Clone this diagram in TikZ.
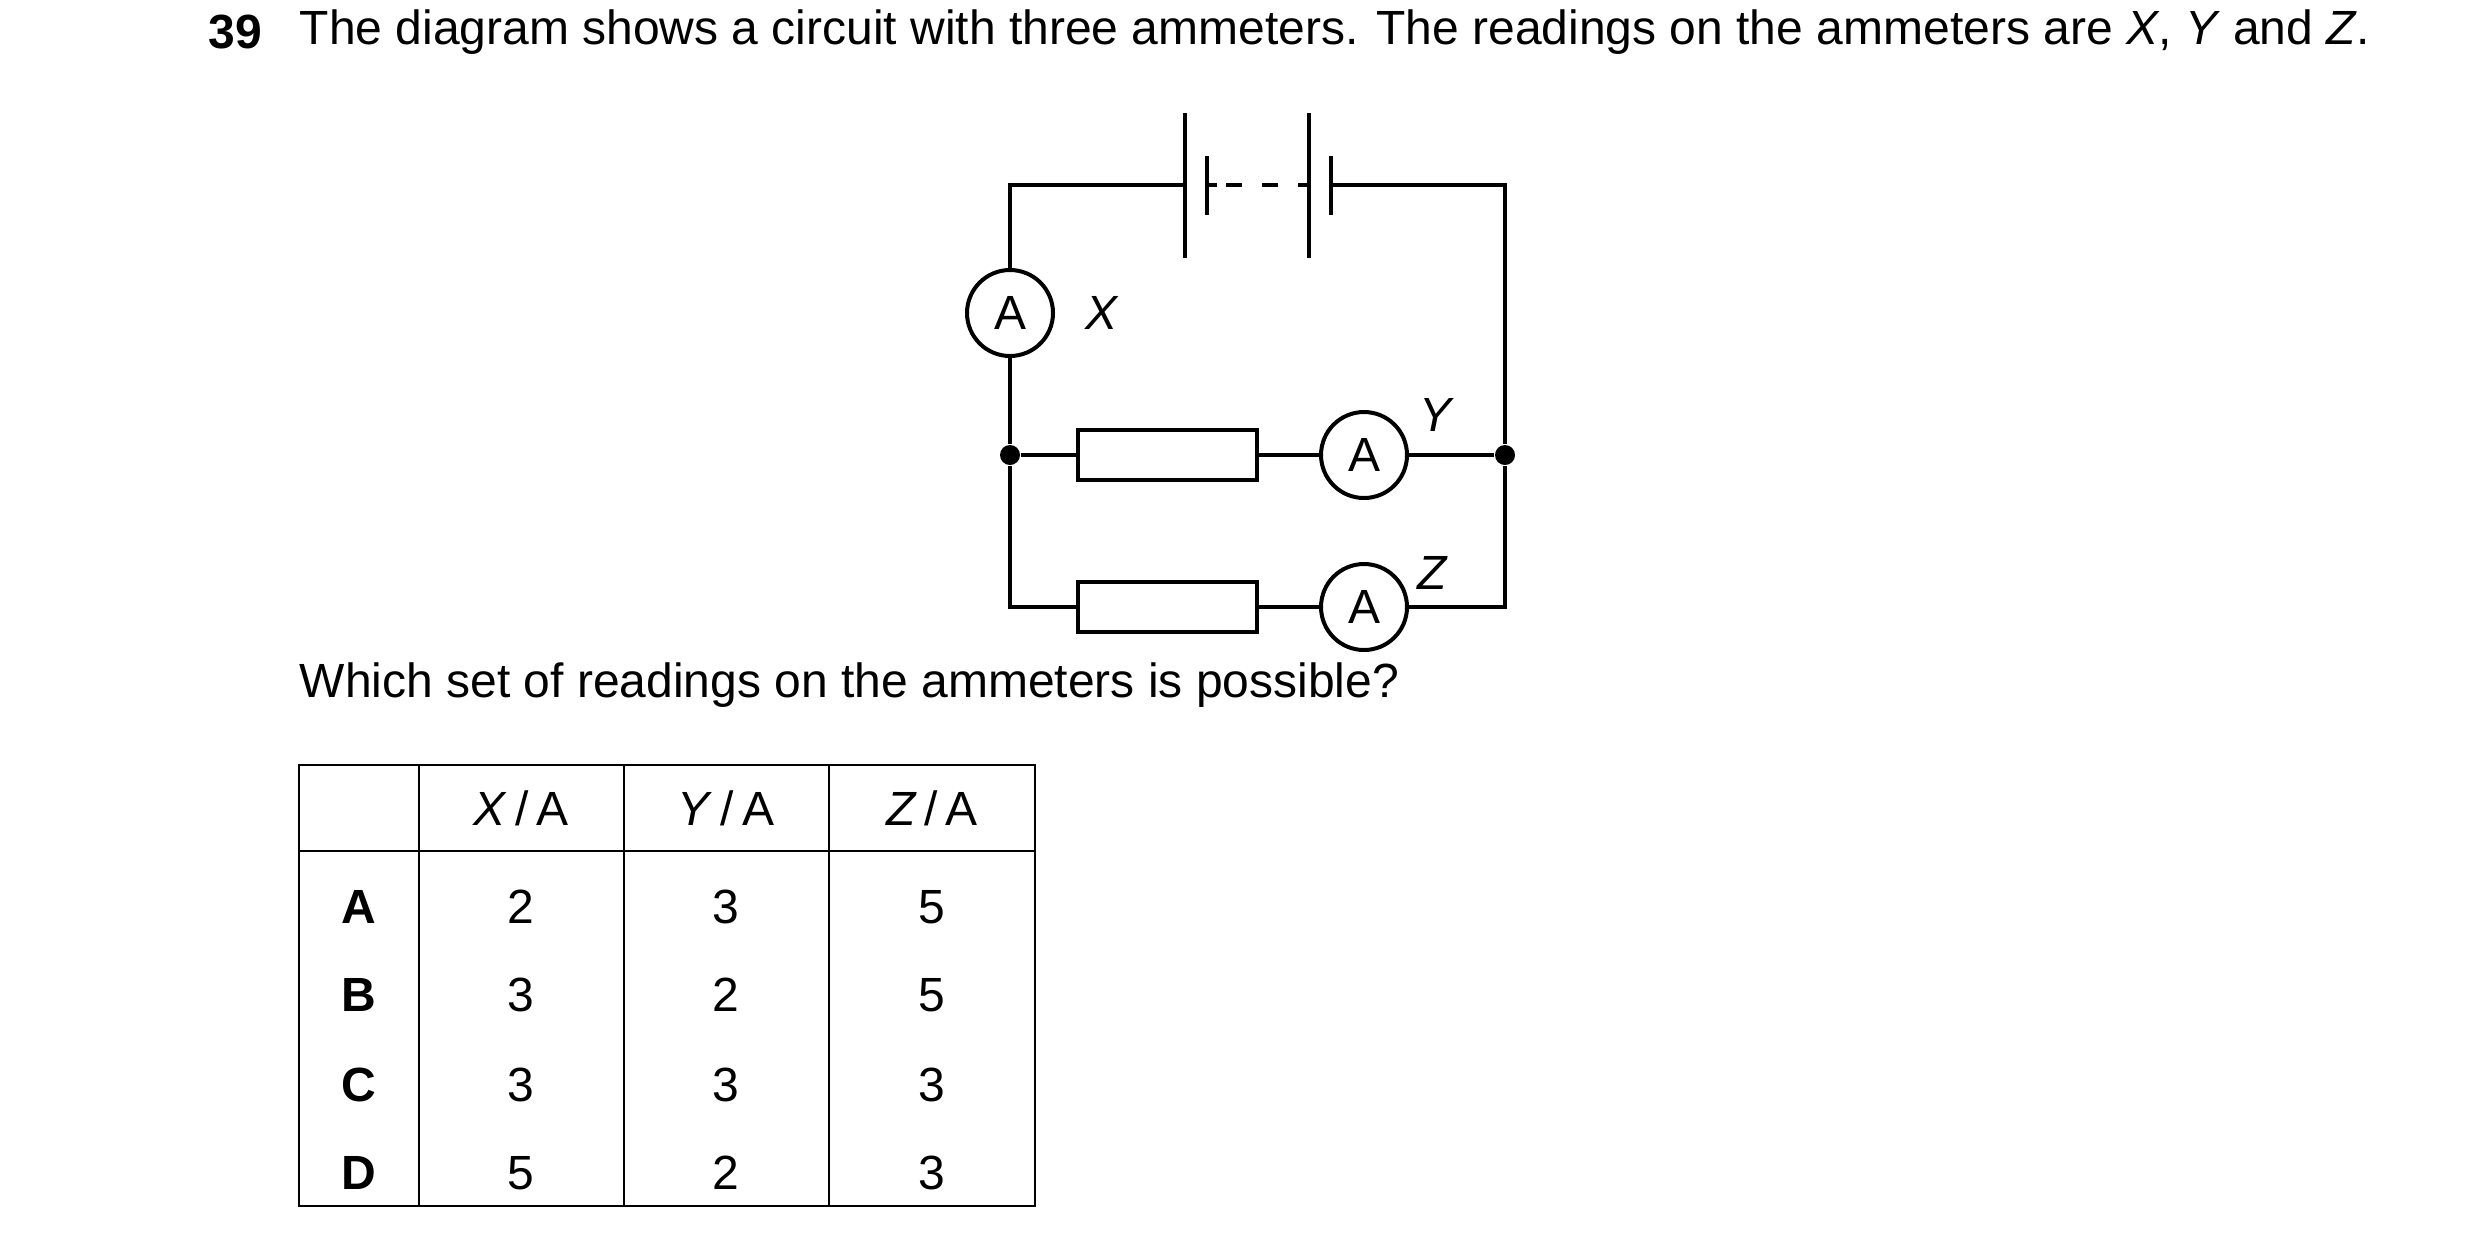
\documentclass[tikz,border=0pt]{standalone}
\usepackage{fontspec}
\setmainfont{Liberation Sans}
\usetikzlibrary{positioning}

\tikzset{
  wire/.style={line width=1pt},
  meter/.style={circle,draw,line width=1pt,minimum size=21.5pt,inner sep=0pt,font=\fontsize{12}{14}\selectfont},
  resistor/.style={rectangle,draw,line width=1pt,minimum width=44.75pt,minimum height=12.5pt,inner sep=0pt},
  junction/.style={circle,fill,inner sep=0pt,minimum size=5pt},
  lbl/.style={font=\fontsize{12}{14}\selectfont\itshape},
  txt/.style={font=\fontsize{12}{14}\selectfont,inner sep=0pt},
  cell/.style={font=\fontsize{12}{14}\selectfont},
}

\begin{document}
\begin{tikzpicture}[x=0.25pt,y=-0.25pt]
\useasboundingbox (0,0) rectangle (2480,1233);
% question text
\node[txt,anchor=west,font=\fontsize{12}{14}\selectfont\bfseries] (num) at (208,32) {39};
\node[txt,anchor=west] (q) at (299,32) {The diagram shows a circuit with three ammeters. The readings on the ammeters are \textit{X}, \textit{Y} and \textit{Z}.};
% circuit
\coordinate (tl) at (1010,185);
\coordinate (tr) at (1505,185);
\coordinate (bl) at (1010,607);
\coordinate (br) at (1505,607);
\node[meter] (ax) at (1010,313) {A};
\node[lbl,right=4pt of ax] (xl) {X};
\node[junction] (jl) at (1010,455) {};
\node[junction] (jr) at (1505,455) {};
\node[resistor] (r1) at (1167,455) {};
\node[meter] (ay) at (1364,455) {A};
\node[lbl] (yl) at (1435,415) {Y};
\node[resistor] (r2) at (1167,607) {};
\node[meter] (az) at (1364,607) {A};
\node[lbl] (zl) at (1432,573) {Z};
% cells
\coordinate (c1) at (1185,185);
\coordinate (c2) at (1207,185);
\coordinate (c3) at (1309,185);
\coordinate (c4) at (1331,185);
\draw[wire] (c1) -- (tl) -- (ax);
\draw[wire] (ax) -- (jl) -- (bl) -- (r2);
\draw[wire] (c4) -- (tr) -- (jr) -- (br) -- (az);
\draw[wire] (jl) -- (r1) -- (ay) -- (jr);
\draw[wire] (r2) -- (az);
\draw[wire] (1185,113) -- (1185,258);
\draw[wire] (1207,156) -- (1207,215);
\draw[wire] (1309,113) -- (1309,258);
\draw[wire] (1331,156) -- (1331,215);
\draw[wire,dash pattern=on 12pt off 0pt] (c2) -- ++(10,0);
\draw[wire,dash pattern=on 4pt off 5pt] (1226,185) -- (c3);
% table
\node[txt,anchor=west] (w) at (299,685) {Which set of readings on the ammeters is possible?};
\draw[line width=0.6pt] (299,765) rectangle (1035,1206);
\draw[line width=0.6pt] (299,851) -- (1035,851);
\foreach \x in {419,624,829} \draw[line width=0.6pt] (\x,765) -- (\x,1206);
\node[cell] (h1) at (521,808) {\textit{X}\,/\,A};
\node[cell] (h2) at (726,808) {\textit{Y}\,/\,A};
\node[cell] (h3) at (932,808) {\textit{Z}\,/\,A};
\foreach \y/\r/\a/\b/\c in {907/A/2/3/5,995/B/3/2/5,1085/C/3/3/3,1173/D/5/2/3} {
  \node[cell,font=\fontsize{12}{14}\selectfont\bfseries] at (359,\y) {\r};
  \node[cell] at (521,\y) {\a};
  \node[cell] at (726,\y) {\b};
  \node[cell] at (932,\y) {\c};
}
\end{tikzpicture}
\end{document}
